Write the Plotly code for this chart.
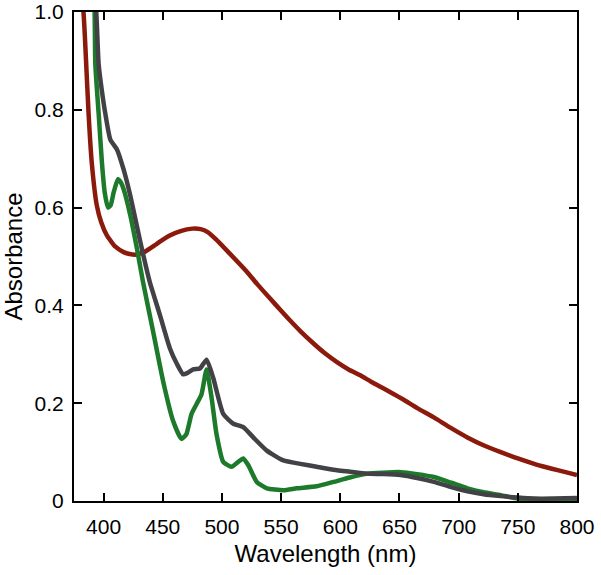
import plotly.graph_objects as go

# Red series (wavelength nm, absorbance)
red_wl = [378, 383, 385.3, 387.3, 390, 394.3, 398, 402.8, 410, 416.9, 422, 428, 435, 445, 455, 465,
          475, 482, 488, 495, 505, 521, 530, 540.7, 550, 557.6, 566, 577.4, 587, 597.2, 607, 616.9,
          626, 636.7, 645, 653.6, 665, 679, 693, 707.4, 721, 735.6, 750, 763.8, 774, 783.6, 792, 800]
red_abs = [1.10, 1.00, 0.894, 0.793, 0.692, 0.604, 0.570, 0.543, 0.520, 0.509, 0.505, 0.504, 0.510, 0.526, 0.542, 0.552,
           0.557, 0.556, 0.550, 0.535, 0.510, 0.469, 0.443, 0.414, 0.389, 0.369, 0.348, 0.322, 0.302, 0.284, 0.269, 0.257,
           0.244, 0.230, 0.219, 0.207, 0.190, 0.171, 0.150, 0.130, 0.114, 0.100, 0.087, 0.076, 0.069, 0.063, 0.058, 0.053]

# Green series
green_wl = [390, 392.4, 393, 395.8, 398.6, 401, 403.7, 406, 408.5, 412.1, 414.5, 416.9, 422.6, 428.2, 433.3, 441.8,
            450.3, 458.7, 465.8, 470, 474.3, 478.5, 482.7, 487, 491.2, 495.4, 501.1, 508.1, 513.8, 518, 522.3,
            529.4, 537.9, 551.9, 563.3, 580, 594.3, 608, 622.6, 636, 650.8, 665, 679.1, 693, 707.4, 721, 735.6, 747, 760, 780, 800]
green_abs = [1.10, 1.00, 0.894, 0.793, 0.692, 0.630, 0.600, 0.605, 0.631, 0.658, 0.652, 0.638, 0.584, 0.516, 0.448, 0.347,
             0.245, 0.164, 0.127, 0.137, 0.178, 0.198, 0.218, 0.269, 0.212, 0.137, 0.080, 0.070, 0.080, 0.087, 0.073,
             0.039, 0.026, 0.022, 0.026, 0.030, 0.039, 0.048, 0.056, 0.058, 0.059, 0.055, 0.049, 0.038, 0.026, 0.018, 0.012, 0.006, 0.003, 0.002, 0.002]

# Gray series
gray_wl = [390, 393.8, 395.8, 398.5, 401.4, 405.7, 411.3, 416.9, 422.6, 431.1, 439, 447.5, 455.9, 462, 467.2,
           471, 475.7, 481.4, 487, 492.6, 501.1, 509.6, 518, 526.5, 537.9, 551.9, 566.1, 580, 594.3, 608,
           622.6, 636, 650.8, 665, 679.1, 693, 707.4, 721, 735.6, 750, 763.8, 780, 800]
gray_abs = [1.10, 1.00, 0.894, 0.84, 0.793, 0.739, 0.719, 0.678, 0.624, 0.529, 0.448, 0.381, 0.313, 0.280, 0.259,
            0.262, 0.269, 0.271, 0.289, 0.252, 0.178, 0.158, 0.151, 0.130, 0.103, 0.083, 0.076, 0.070, 0.064, 0.060,
            0.056, 0.055, 0.053, 0.047, 0.039, 0.029, 0.020, 0.014, 0.010, 0.007, 0.005, 0.005, 0.006]

x_ticks = [400, 450, 500, 550, 600, 650, 700, 750, 800]
y_ticks = [0, 0.2, 0.4, 0.6, 0.8, 1.0]
y_tick_text = ["0", "0.2", "0.4", "0.6", "0.8", "1.0"]

FONT = "Liberation Sans, Arial, sans-serif"

fig = go.Figure()
fig.add_trace(go.Scatter(x=red_wl, y=red_abs, mode="lines",
                         line=dict(color="rgb(140,26,12)", width=4.5, shape="spline", smoothing=0.5)))
fig.add_trace(go.Scatter(x=green_wl, y=green_abs, mode="lines",
                         line=dict(color="rgb(28,122,42)", width=4.5, shape="spline", smoothing=0.5)))
fig.add_trace(go.Scatter(x=gray_wl, y=gray_abs, mode="lines",
                         line=dict(color="rgb(66,66,70)", width=4.5, shape="spline", smoothing=0.5)))

axis_common = dict(showline=True, linecolor="black", linewidth=2, mirror="ticks",
                   ticks="inside", ticklen=8, tickwidth=2, tickcolor="black",
                   showgrid=False, zeroline=False, automargin=False,
                   ticklabeloverflow="allow",
                   tickfont=dict(family=FONT, size=21, color="black"))

fig.update_xaxes(range=[375, 800], tickvals=x_ticks, ticktext=[str(v) for v in x_ticks],
                 title=dict(text="Wavelength (nm)", standoff=8,
                            font=dict(family=FONT, size=24, color="black")),
                 ticklabelstandoff=6, **axis_common)
fig.update_yaxes(range=[0, 1.0], tickvals=y_ticks, ticktext=y_tick_text,
                 title=dict(text="Absorbance", standoff=6,
                            font=dict(family=FONT, size=24, color="black")),
                 ticklabelstandoff=4, **axis_common)

fig.update_layout(width=601, height=575, showlegend=False,
                  margin=dict(l=74, r=24, t=12, b=74),
                  plot_bgcolor="white", paper_bgcolor="white")

fig.write_html("out.html", config={"displayModeBar": False},
               post_script="document.body.style.margin='0';")
